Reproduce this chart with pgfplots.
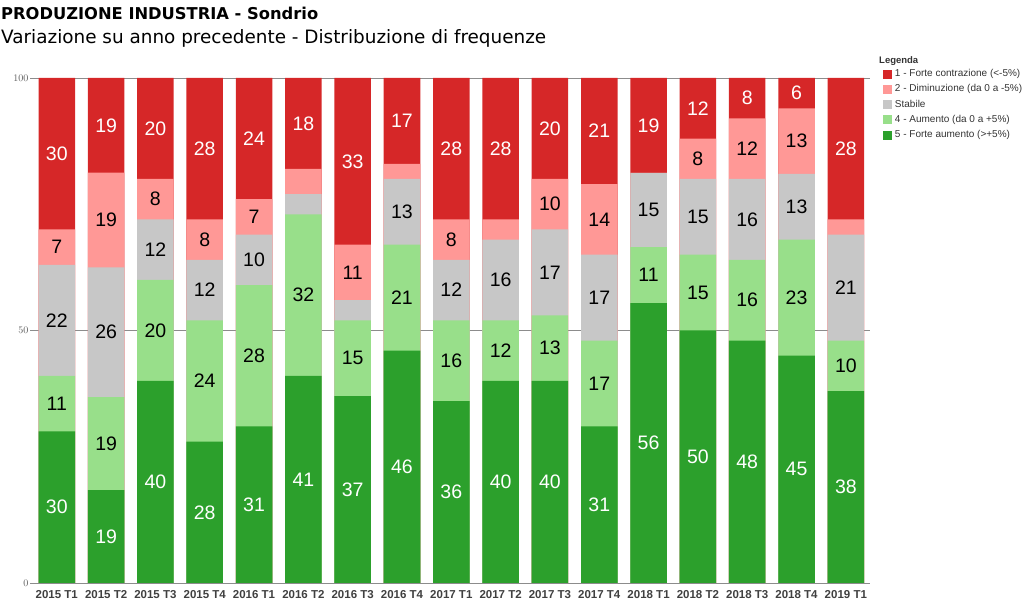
\documentclass[border=0pt]{standalone}
\usepackage{pgfplots}
\pgfplotsset{compat=1.18}
\usepackage{pgfplotstable}
\usepackage{fontspec}
\setmainfont{Liberation Sans}
\newfontfamily\titlefont{DejaVu Sans}
\definecolor{cfc}{HTML}{D62728}
\definecolor{cd}{HTML}{FF9896}
\definecolor{cs}{HTML}{C7C7C7}
\definecolor{ca}{HTML}{98DF8A}
\definecolor{cfa}{HTML}{2CA02C}

% fa = 5 Forte aumento, a = 4 Aumento, s = Stabile, d = 2 Diminuzione, fc = 1 Forte contrazione
% l* = printed labels ({} = no label)
\pgfplotstableread{
x fa a s d fc lfa la ls ld lfc
0 30 11 22 7 30 30 11 22 7 30
1 18.4 18.4 25.7 18.75 18.75 19 19 26 19 19
2 40 20 12 8 20 40 20 12 8 20
3 28 24 12 8 28 28 24 12 8 28
4 31 28 10 7 24 31 28 10 7 24
5 41 32 4 5 18 41 32 {} {} 18
6 37 15 4 11 33 37 15 {} 11 33
7 46 21 13 3 17 46 21 13 {} 17
8 36 16 12 8 28 36 16 12 8 28
9 40 12 16 4 28 40 12 16 {} 28
10 40 13 17 10 20 40 13 17 10 20
11 31 17 17 14 21 31 17 17 14 21
12 55.4 11.1 14.7 0 18.8 56 11 15 {} 19
13 50 15 15 8 12 50 15 15 8 12
14 48 16 16 12 8 48 16 16 12 8
15 45 23 13 13 6 45 23 13 13 6
16 38 10 21 3 28 38 10 21 {} 28
}\data

\pgfplotsset{
  mybar/.style={ybar, bar width=36.5pt, bar shift=0pt, draw=none, fill=#1,
    legend image code/.code={\fill[##1] (0pt,-4.5pt) rectangle (9pt,4.5pt);}},
  mylbl/.style={forget plot, draw=none, mark=none, nodes near coords,
    point meta=explicit symbolic,
    every node near coord/.append style={anchor=center, text=#1, inner sep=0pt,
      font=\fontsize{19.5}{19.5}\selectfont}},
}

\begin{document}
\begin{tikzpicture}
\useasboundingbox (0,0) rectangle (1024pt,601pt);
\begin{axis}[
  at={(34pt,18pt)}, anchor=south west,
  scale only axis, width=836pt, height=505pt,
  xmin=-0.462, xmax=16.49, ymin=0, ymax=100,
  xtick={0,...,16},
  xticklabels={2015 T1,2015 T2,2015 T3,2015 T4,2016 T1,2016 T2,2016 T3,2016 T4,2017 T1,2017 T2,2017 T3,2017 T4,2018 T1,2018 T2,2018 T3,2018 T4,2019 T1},
  ytick={0,50,100},
  ymajorgrids, grid style={black!45, line width=0.8pt},
  axis line style={draw=none},
  major x tick style={draw=none},
  major y tick style={black!45, line width=0.8pt},
  tick align=outside, major tick length=4pt,
  ytick pos=left, xtick pos=bottom,
  yticklabel style={font=\fontsize{10}{10}\selectfont, text=black!65, inner sep=1.5pt},
  xticklabel style={font=\fontsize{11.5}{11.5}\selectfont\bfseries, text=black!75, inner sep=0pt, yshift=-3pt},
  legend style={at={(rel axis cs:1.0155,1.0168)}, anchor=north west, draw=none, fill=none,
    inner sep=0pt, outer sep=0pt, font=\fontsize{10}{10}\selectfont, text=black!80,
    row sep=6.3pt, nodes={inner sep=0pt, text height=7pt, text depth=2pt},
    /tikz/every odd column/.append style={column sep=3pt}},
  legend cell align=left,
]
\addplot[mybar=cfc] table[x=x, y expr=\thisrow{fa}+\thisrow{a}+\thisrow{s}+\thisrow{d}+\thisrow{fc}] {\data};
\addlegendentry{1 - Forte contrazione (<-5\%)}
\addplot[mybar=cd] table[x=x, y expr=\thisrow{fa}+\thisrow{a}+\thisrow{s}+\thisrow{d}] {\data};
\addlegendentry{2 - Diminuzione (da 0 a -5\%)}
\addplot[mybar=cs] table[x=x, y expr=\thisrow{fa}+\thisrow{a}+\thisrow{s}] {\data};
\addlegendentry{Stabile}
\addplot[mybar=ca] table[x=x, y expr=\thisrow{fa}+\thisrow{a}] {\data};
\addlegendentry{4 - Aumento (da 0 a +5\%)}
\addplot[mybar=cfa] table[x=x, y=fa] {\data};
\addlegendentry{5 - Forte aumento (>+5\%)}

\addplot[mylbl=white] table[x=x, y expr=\thisrow{fa}/2, meta=lfa] {\data};
\addplot[mylbl=black] table[x=x, y expr=\thisrow{fa}+\thisrow{a}/2, meta=la] {\data};
\addplot[mylbl=black] table[x=x, y expr=\thisrow{fa}+\thisrow{a}+\thisrow{s}/2, meta=ls] {\data};
\addplot[mylbl=black] table[x=x, y expr=\thisrow{fa}+\thisrow{a}+\thisrow{s}+\thisrow{d}/2, meta=ld] {\data};
\addplot[mylbl=white] table[x=x, y expr=\thisrow{fa}+\thisrow{a}+\thisrow{s}+\thisrow{d}+\thisrow{fc}/2, meta=lfc] {\data};
\end{axis}
\node[anchor=base west, inner sep=0pt, font=\titlefont\bfseries\fontsize{16.3}{18}\selectfont] at (1pt,581.7pt) {PRODUZIONE INDUSTRIA - Sondrio};
\node[anchor=base west, inner sep=0pt, font=\titlefont\fontsize{18.4}{20}\selectfont] at (1pt,557pt) {Variazione su anno precedente - Distribuzione di frequenze};
\node[anchor=base west, inner sep=0pt, font=\bfseries\fontsize{9.5}{9.5}\selectfont, text=black!80] at (879pt,537pt) {Legenda};
\end{tikzpicture}
\end{document}
